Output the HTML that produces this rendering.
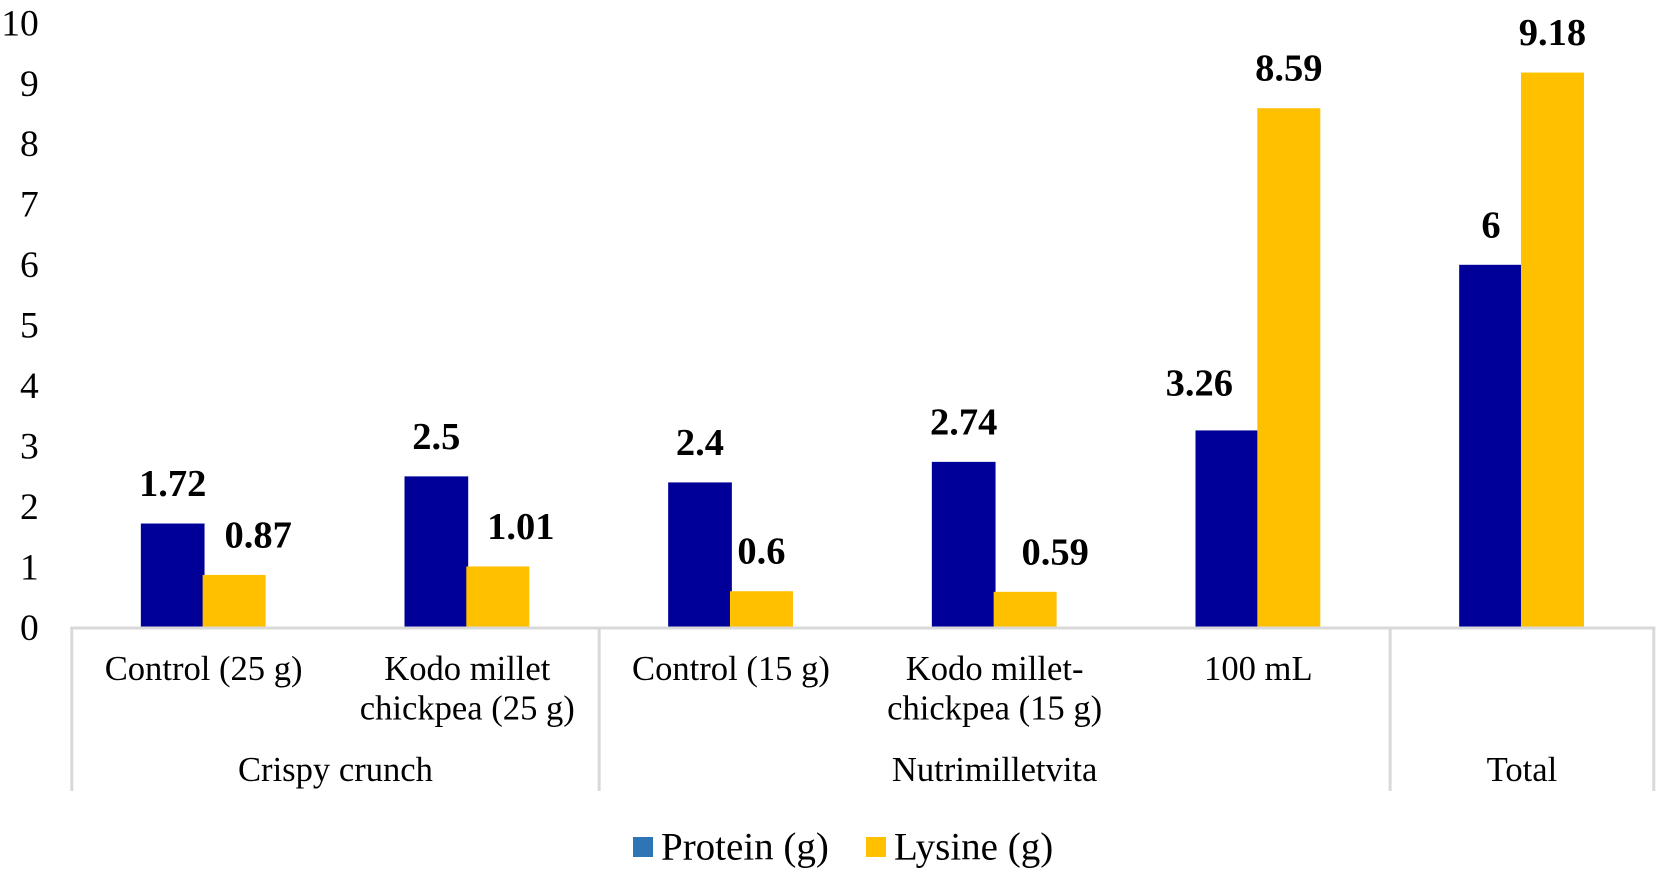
<!DOCTYPE html>
<html lang="en">
<head>
<meta charset="utf-8">
<title>Protein and lysine content chart</title>
<style>
html,body{margin:0;padding:0;background:#fff;width:1658px;height:871px;overflow:hidden}
svg{display:block;font-family:"Liberation Serif",serif;fill:#000}
.tick{font-size:37.5px;text-anchor:end}
.cat{font-size:34.6px;text-anchor:middle}
.val{font-size:38.5px;font-weight:bold;text-anchor:middle}
.leg{font-size:39px}
</style>
</head>
<body>
<svg id="chart" width="1658" height="871" viewBox="0 0 1658 871" xmlns="http://www.w3.org/2000/svg">
  <g id="bars"></g>
  <g id="axis"></g>
  <g id="ticks"></g>
  <g id="labels"></g>
  <g>
    <g>
      <rect x="633" y="837" width="20" height="20" fill="#2e75b6"></rect>
      <text class="leg" x="661" y="859.6">Protein (g)</text>
    </g>
    <g>
      <rect x="866" y="837" width="20" height="20" fill="#ffc000"></rect>
      <text class="leg" x="894" y="859.6">Lysine (g)</text>
    </g>
  </g>
</svg>
<script>
const categories = [
  ["Control (25 g)"],
  ["Kodo millet", "chickpea (25 g)"],
  ["Control (15 g)"],
  ["Kodo millet-", "chickpea (15 g)"],
  ["100 mL"],
  [""]
];
const groupNames = ["Crispy crunch", "Nutrimilletvita", "Total"];
const groupSizes = [2, 3, 1];
const proteinValues = [1.72, 2.5, 2.4, 2.74, 3.26, 6];
const lysineValues = [0.87, 1.01, 0.6, 0.59, 8.59, 9.18];
const tickValues = [0, 1, 2, 3, 4, 5, 6, 7, 8, 9, 10];

const NS = "http://www.w3.org/2000/svg";
const plotLeft = 71.8, plotRight = 1653.8, baseY = 627.5, unit = 60.45;
const step = (plotRight - plotLeft) / categories.length;
const yScale = v => baseY - v * unit;
const xCenter = i => plotLeft + step * (i + 0.5);
const nudgeProtein = {4: -28};
const nudgeLysine = {0: 24, 1: 23, 3: 30};

function mk(tag, parent, attrs, text) {
  const el = document.createElementNS(NS, tag);
  for (const k in attrs) el.setAttribute(k, attrs[k]);
  if (text !== undefined) el.textContent = text;
  parent.appendChild(el);
  return el;
}

const barsG = document.getElementById("bars");
const axisG = document.getElementById("axis");
const ticksG = document.getElementById("ticks");
const labelsG = document.getElementById("labels");

proteinValues.forEach((v, i) => {
  const bar = mk("rect", barsG, {x: xCenter(i) - 62.8, y: yScale(v), width: 63.7, height: baseY - yScale(v), fill: "#000099"});
  
  
  const dx = nudgeProtein[i] || 0;
  const lab = mk("text", labelsG, {class: "val", x: xCenter(i) - 31 + dx, y: yScale(v) - (dx ? 35 : 27.5)}, String(v));
  
  
});

lysineValues.forEach((v, i) => {
  const bar = mk("rect", barsG, {x: xCenter(i) - 1, y: yScale(v), width: 63, height: baseY - yScale(v), fill: "#ffc000"});
  
  
  const dx = nudgeLysine[i] || 0;
  const lab = mk("text", labelsG, {class: "val", x: xCenter(i) + 30.5 + dx, y: yScale(v) - 27.5}, String(v));
  
  
});

tickValues.forEach(v => {
  const t = mk("text", ticksG, {class: "tick", x: 38.8, y: yScale(v) + 12.3}, String(v));
  
  
});

const axisLine = mk("line", axisG, {x1: plotLeft - 1.5, x2: plotRight + 1.5, y1: 628, y2: 628, stroke: "#d9d9d9", "stroke-width": 3});



function separator(x) {
  const s = mk("line", axisG, {x1: x, x2: x, y1: 627, y2: 791, stroke: "#d9d9d9", "stroke-width": 3});
  
  
}

categories.forEach((lines, i) => {
  lines.forEach((line, n) => {
    if (!line) return;
    const t = mk("text", axisG, {class: "cat", x: xCenter(i), y: 680 + n * 39.5}, line);
    
    
  });
});

let start = 0;
separator(plotLeft);
groupNames.forEach((name, g) => {
  const end = start + groupSizes[g];
  const t = mk("text", axisG, {class: "cat", x: plotLeft + step * (start + end) / 2, y: 781}, name);
  
  
  separator(plotLeft + step * end);
  start = end;
});
</script>
</body>
</html>
